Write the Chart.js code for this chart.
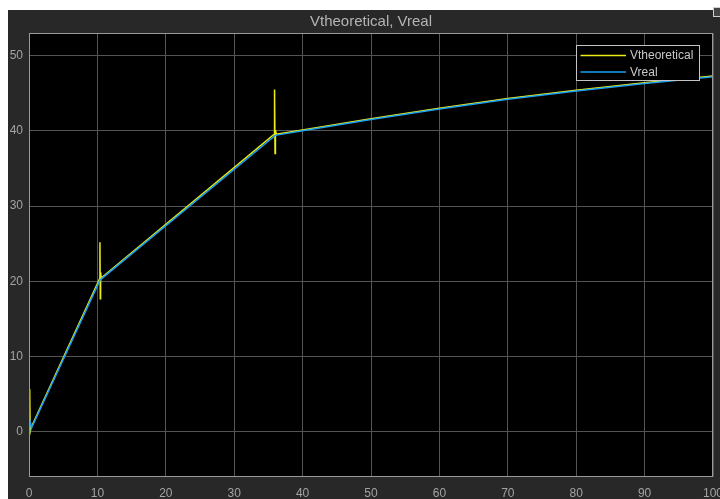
<!DOCTYPE html>
<html>
<head>
<meta charset="utf-8">
<script src="https://cdn.jsdelivr.net/npm/chart.js@4.4.1/dist/chart.umd.min.js"></script>
<style>
  html, body { margin: 0; padding: 0; background: #ffffff; }
  body { width: 720px; height: 499px; position: relative; overflow: hidden; }
  #fig { position: absolute; left: 8px; top: 10px; width: 712px; height: 489px; background: #282828; }
  #fig canvas { display: block; }
  #undock { position: absolute; left: 713px; top: 7px; width: 7px; height: 8px; border: 1px solid #d0d0d0; border-right: none; background: #444444; }
</style>
</head>
<body>
<div id="fig"><canvas id="c" width="712" height="489"></canvas></div>
<div id="undock"></div>
<script>
// Simulated time axis (x) and the two voltage traces
const xTheoretical = [0, 0.10, 0.17, 0.30, 10.33, 10.37, 10.42, 10.47, 10.55, 35.85, 35.90, 35.97, 36.03, 36.15, 40, 50, 60, 70, 80, 90, 100];
const vTheoretical = [0, 5.7, 0.0, 0.55, 20.35, 25.2, 17.7, 21.2, 20.45, 39.55, 45.5, 37.0, 40.1, 39.55, 40.1, 41.6, 43.0, 44.3, 45.4, 46.4, 47.3];

const xReal = [0, 0.10, 0.40, 10.40, 36.00, 40, 50, 60, 70, 80, 90, 100];
const vReal = [0, 1.6, 0.6, 20.2, 39.4, 40.0, 41.5, 42.9, 44.2, 45.3, 46.3, 47.2];

const seriesNames = ['Vtheoretical', 'Vreal'];
const xTicks = [0, 10, 20, 30, 40, 50, 60, 70, 80, 90, 100];
const yTicks = [0, 10, 20, 30, 40, 50];

const FONT = '"Liberation Sans", Arial, Helvetica, sans-serif';
const GRID = '#545454';
const FRAME = '#9a9a9a';
const LABEL = '#a3a3a3';

const toPoints = (xs, ys) => xs.map((x, i) => ({ x: x, y: ys[i] }));

// Black plotting area behind grid and traces
const plotBackground = {
  id: 'plotBackground',
  beforeDraw(chart) {
    const { ctx, chartArea: a } = chart;
    ctx.save();
    ctx.fillStyle = '#000000';
    ctx.fillRect(a.left, a.top, a.right - a.left, a.bottom - a.top);
    ctx.restore();
  }
};

// Box around the axes
const axesFrame = {
  id: 'axesFrame',
  afterDatasetsDraw(chart) {
    const { ctx, chartArea: a } = chart;
    ctx.save();
    ctx.strokeStyle = FRAME;
    ctx.lineWidth = 1;
    ctx.strokeRect(Math.round(a.left) + 0.5, Math.round(a.top) + 0.5,
                   Math.round(a.right - a.left) - 1, Math.round(a.bottom - a.top) - 1);
    ctx.restore();
  }
};

// Legend box in the upper-right corner of the axes
const insetLegend = {
  id: 'insetLegend',
  afterDraw(chart) {
    const { ctx, chartArea: a } = chart;
    const w = 124, h = 36;
    const left = Math.round(a.right - 13 - w), top = Math.round(a.top + 12);
    ctx.save();
    ctx.fillStyle = '#000000';
    ctx.fillRect(left, top, w, h);
    ctx.strokeStyle = '#c4c4c4';
    ctx.lineWidth = 1;
    ctx.strokeRect(left + 0.5, top + 0.5, w - 1, h - 1);
    ctx.font = '12px ' + FONT;
    ctx.textBaseline = 'middle';
    chart.data.datasets.forEach((ds, i) => {
      const y = top + 10.5 + i * 16.5;
      ctx.strokeStyle = ds.borderColor;
      ctx.lineWidth = 1.5;
      ctx.beginPath();
      ctx.moveTo(left + 4.5, y);
      ctx.lineTo(left + 50, y);
      ctx.stroke();
      ctx.fillStyle = '#c8c8c8';
      ctx.fillText(ds.label, left + 54, y + 0.5);
    });
    ctx.restore();
  }
};

new Chart(document.getElementById('c'), {
  type: 'line',
  data: {
    datasets: [
      {
        label: seriesNames[0],
        data: toPoints(xTheoretical, vTheoretical),
        borderColor: '#ecec12',
        borderWidth: 1.5,
        pointRadius: 0,
        tension: 0,
        order: 2
      },
      {
        label: seriesNames[1],
        data: toPoints(xReal, vReal),
        borderColor: '#1ba0f2',
        borderWidth: 1.5,
        pointRadius: 0,
        tension: 0,
        order: 1
      }
    ]
  },
  options: {
    responsive: false,
    animation: false,
    events: [],
    layout: { padding: { left: 0, right: 7, top: 0, bottom: 0 } },
    plugins: {
      legend: { display: false },
      tooltip: { enabled: false },
      title: {
        display: true,
        fullSize: false,
        text: 'Vtheoretical, Vreal',
        color: '#b4b4b4',
        font: { family: FONT, size: 15, weight: 'normal' },
        padding: { top: 3, bottom: 2 }
      }
    },
    scales: {
      x: {
        type: 'linear',
        min: 0,
        max: 100,
        grid: { color: GRID, lineWidth: 1, drawTicks: false },
        border: { display: false },
        ticks: { color: LABEL, font: { family: FONT, size: 12 }, padding: 9, maxRotation: 0 },
        afterBuildTicks(scale) { scale.ticks = xTicks.map(v => ({ value: v })); },
        afterFit(scale) { scale.height = 22; scale.paddingLeft = 0; scale.paddingRight = 0; }
      },
      y: {
        min: -6,
        max: 53,
        grid: { color: GRID, lineWidth: 1, drawTicks: false },
        border: { display: false },
        ticks: { color: LABEL, font: { family: FONT, size: 12 }, padding: 6 },
        afterBuildTicks(scale) { scale.ticks = yTicks.map(v => ({ value: v })); },
        afterFit(scale) { scale.width = 21; scale.paddingTop = 0; scale.paddingBottom = 0; }
      }
    }
  },
  plugins: [plotBackground, axesFrame, insetLegend]
});
</script>
</body>
</html>
